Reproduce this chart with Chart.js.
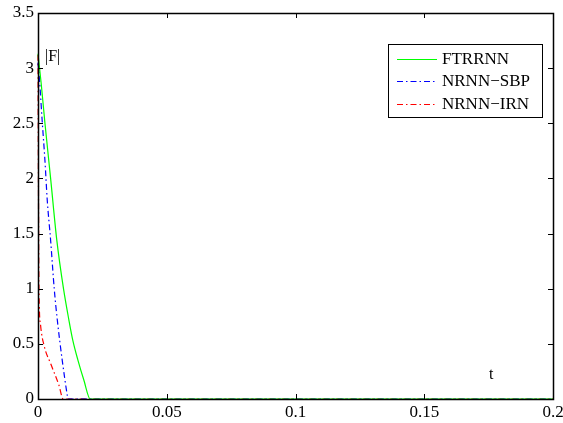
<!DOCTYPE html>
<html>
<head>
<meta charset="utf-8">
<script src="https://cdn.jsdelivr.net/npm/chart.js@4"></script>
<style>
  html, body { margin: 0; padding: 0; background: #fff; }
  canvas { display: block; }
</style>
</head>
<body>
<canvas id="chart" width="563" height="423"></canvas>
<script>
// data
var seriesNames = ["FTRRNN", "NRNN\u2212SBP", "NRNN\u2212IRN"];

var ftrrnnT = [0, 0.0012, 0.0027, 0.0049, 0.0073, 0.0099, 0.012, 0.0135, 0.0155, 0.0178, 0.0203, 0.2];
var ftrrnnF = [3.13, 2.87, 2.5, 2.0, 1.44, 1.0, 0.716, 0.534, 0.353, 0.172, 0, 0];

var sbpT = [0, 0.0006, 0.0016, 0.0027, 0.0036, 0.0049, 0.0063, 0.0075, 0.0094, 0.0114, 0.0116, 0.2];
var sbpF = [3.05, 2.89, 2.53, 2.16, 1.8, 1.44, 1.0, 0.716, 0.353, 0.027, 0, 0];

var irnT = [0, 0.0002, 0.0003, 0.0005, 0.001, 0.0023, 0.0051, 0.0081, 0.0098, 0.2];
var irnF = [3.12, 1.8, 1.2, 0.85, 0.67, 0.49, 0.31, 0.127, 0, 0];

var xTicks = [0, 0.05, 0.1, 0.15, 0.2];
var yTicks = [0, 0.5, 1, 1.5, 2, 2.5, 3, 3.5];

var serif = "'Liberation Serif', 'Times New Roman', serif";

function toPoints(t, f) {
    var pts = [];
    for (var i = 0; i < t.length; i++) {
        pts.push({ x: t[i], y: f[i] });
    }
    return pts;
}

function createData(label, t, f, color, dash) {
    return {
        label: label,
        data: toPoints(t, f),
        borderColor: color,
        borderWidth: 1.2,
        borderDash: dash,
        pointRadius: 0,
        fill: false,
        cubicInterpolationMode: 'monotone',
        clip: 4
    };
}

// MATLAB-like box, inward ticks, legend and the two text labels
var matlabAxes = {
    id: 'matlabAxes',
    afterDatasetsDraw: function(chart) {
        var ctx = chart.ctx;
        var a = chart.chartArea;
        var xs = chart.scales.x, ys = chart.scales.y;
        var len = 5;

        ctx.save();
        ctx.strokeStyle = '#000';
        ctx.lineWidth = 1;
        ctx.setLineDash([]);

        ctx.beginPath();
        xTicks.forEach(function(v) {
            var px = Math.round(xs.getPixelForValue(v)) + 0.5;
            ctx.moveTo(px, a.bottom); ctx.lineTo(px, a.bottom - len);
            ctx.moveTo(px, a.top); ctx.lineTo(px, a.top + len);
        });
        yTicks.forEach(function(v) {
            var py = Math.round(ys.getPixelForValue(v)) + 0.5;
            ctx.moveTo(a.left, py); ctx.lineTo(a.left + len, py);
            ctx.moveTo(a.right, py); ctx.lineTo(a.right - len, py);
        });
        ctx.stroke();

        ctx.lineWidth = 1.5;
        ctx.strokeRect(Math.round(a.left) + 0.5, Math.round(a.top) + 0.5,
            Math.round(a.right - a.left), Math.round(a.bottom - a.top));

        // axis labels inside the plot
        ctx.fillStyle = '#000';
        ctx.font = '16px ' + serif;
        ctx.textBaseline = 'middle';
        ctx.textAlign = 'left';
        ctx.fillText('|F|', 45, 57);
        ctx.fillText('t', 489, 375);

        // legend
        var lx = 388, ly = 44, lw = 154, lh = 73;
        ctx.fillStyle = '#fff';
        ctx.fillRect(lx, ly, lw, lh);
        ctx.lineWidth = 1;
        ctx.strokeStyle = '#000';
        ctx.strokeRect(lx + 0.5, ly + 0.5, lw, lh);
        ctx.font = '17px ' + serif;
        chart.data.datasets.forEach(function(ds, i) {
            var y = ly + 14.5 + i * 22.5;
            ctx.strokeStyle = ds.borderColor;
            ctx.lineWidth = 1.2;
            ctx.setLineDash(ds.borderDash || []);
            ctx.beginPath();
            ctx.moveTo(lx + 9, Math.round(y) + 0.5);
            ctx.lineTo(lx + 49, Math.round(y) + 0.5);
            ctx.stroke();
            ctx.setLineDash([]);
            ctx.fillStyle = '#000';
            ctx.fillText(ds.label, lx + 54, y + 1);
        });
        ctx.restore();
    }
};

new Chart(document.getElementById('chart'), {
    type: 'line',
    data: {
        datasets: [
            createData(seriesNames[0], ftrrnnT, ftrrnnF, '#00ff00', []),
            createData(seriesNames[1], sbpT, sbpF, '#0000ff', [6, 3, 1.5, 3]),
            createData(seriesNames[2], irnT, irnF, '#ff0000', [6, 3, 1.5, 3])
        ]
    },
    options: {
        responsive: false,
        animation: false,
        devicePixelRatio: 1,
        layout: { padding: { left: 0, right: 10, top: 13, bottom: 0 } },
        plugins: {
            legend: { display: false },
            tooltip: { enabled: false }
        },
        scales: {
            x: {
                type: 'linear',
                min: 0,
                max: 0.2,
                afterBuildTicks: function(scale) {
                    scale.ticks = xTicks.map(function(v) { return { value: v }; });
                },
                afterFit: function(scale) {
                    scale.height = 24;
                    scale.paddingLeft = 0;
                    scale.paddingRight = 0;
                },
                grid: { display: false, drawTicks: false },
                border: { display: false },
                ticks: {
                    autoSkip: false,
                    maxRotation: 0,
                    padding: 3,
                    color: '#000',
                    font: { family: serif, size: 17 },
                    callback: function(v) { return String(Number(v.toFixed(2))); }
                }
            },
            y: {
                type: 'linear',
                min: 0,
                max: 3.5,
                afterBuildTicks: function(scale) {
                    scale.ticks = yTicks.map(function(v) { return { value: v }; });
                },
                afterFit: function(scale) {
                    scale.width = 38;
                    scale.paddingTop = 0;
                    scale.paddingBottom = 0;
                },
                grid: { display: false, drawTicks: false },
                border: { display: false },
                ticks: {
                    autoSkip: false,
                    padding: 4,
                    color: '#000',
                    font: { family: serif, size: 17 },
                    callback: function(v) { return String(Number(v.toFixed(1))); }
                }
            }
        }
    },
    plugins: [matlabAxes]
});
</script>
</body>
</html>
